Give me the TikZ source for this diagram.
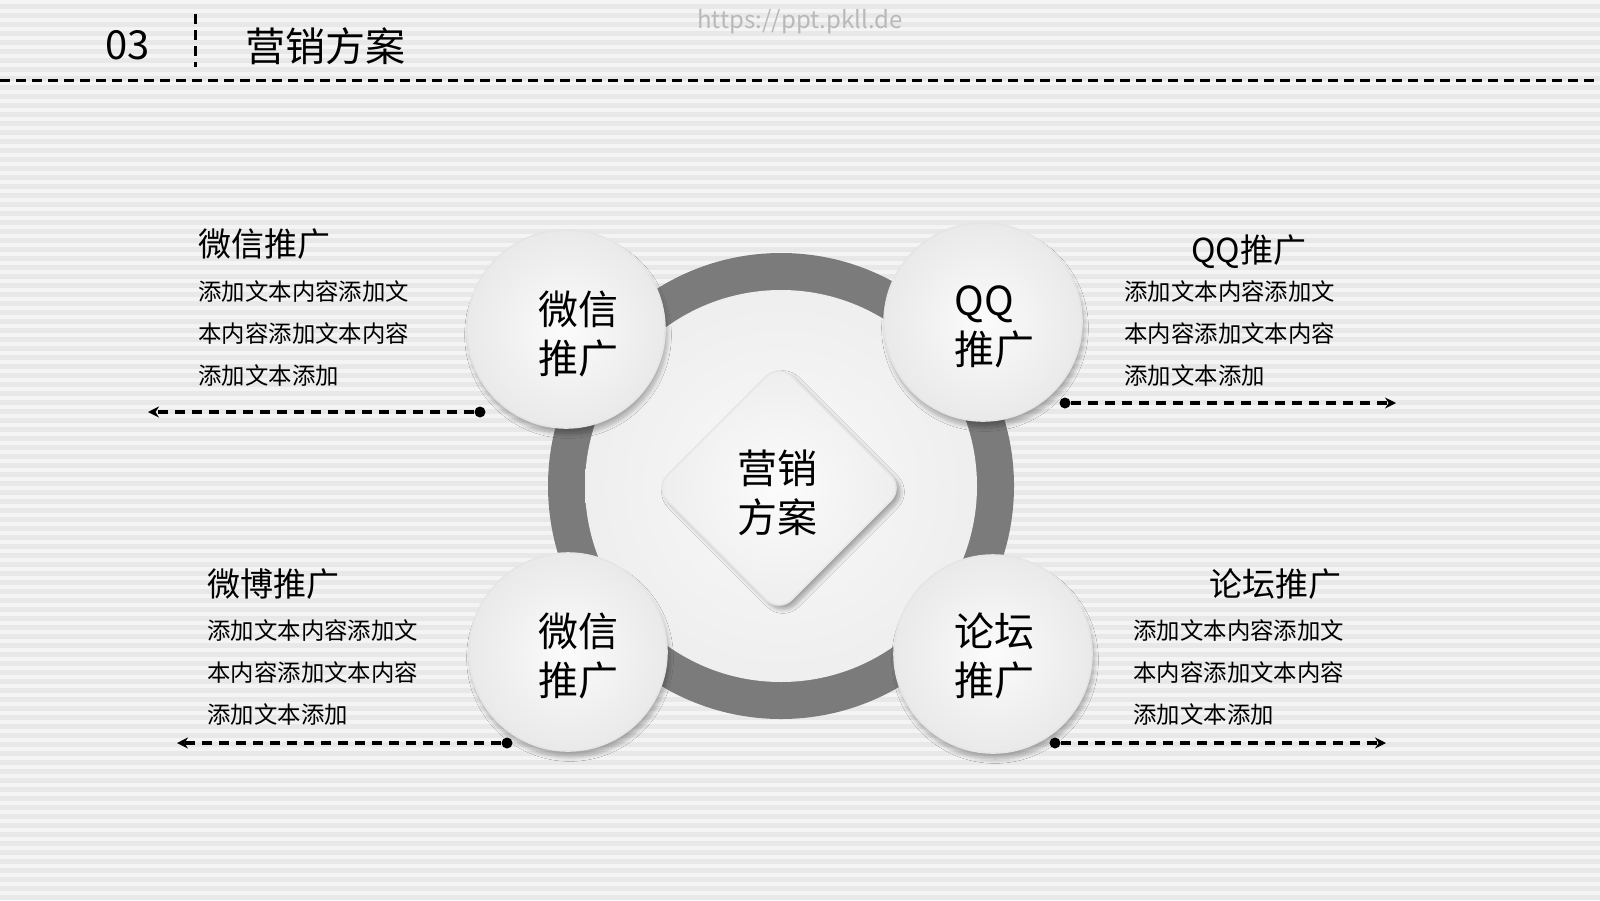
\documentclass[tikz,border=0pt]{standalone}
\usepackage{fontspec}
\setmainfont{Noto Sans CJK SC}
\usetikzlibrary{positioning,shadows.blur,arrows.meta}
\definecolor{bgcol}{HTML}{E8E8E8}
\definecolor{stripecol}{HTML}{F4F4F4}
\definecolor{ringcol}{HTML}{7B7B7B}
\newcommand{\bubsize}{99pt}
\newcommand{\diasize}{88pt}
\tikzset{
    stripe/.style = {stripecol, line width=2pt},
    bubble/.style = {
        circle, inner sep=0, outer sep=0,
        minimum size={\bubsize},
        shading=radial, inner color=gray!3, outer color=gray!17,
        draw=white!80!gray, line width=0.8pt,
        blur shadow={shadow blur steps=12, shadow xshift=1pt,
                     shadow yshift=-3pt, shadow opacity=30}
    },
    diablock/.style = {
        rectangle, rotate=45, inner sep=0,
        minimum size={\diasize}, rounded corners=9pt,
        shading=radial, inner color=gray!3, outer color=gray!14,
        draw=white!80!gray, line width=0.8pt,
        blur shadow={shadow blur steps=10, shadow xshift=2pt,
                     shadow yshift=-2pt, shadow opacity=35}
    },
    bubtext/.style = {
        anchor=west, inner sep=0, align=left,
        font={\fontsize{20}{24.5}\selectfont}
    },
    headtext/.style = {
        anchor=west, inner sep=0,
        font={\fontsize{16.5}{20}\selectfont}
    },
    bodytext/.style = {
        anchor=west, inner sep=0, align=left,
        font={\fontsize{11.7}{21}\selectfont}
    },
    dotnode/.style = {circle, fill=black, inner sep=0, minimum size=5.5pt},
    link/.style = {
        line width=1.6pt, dash pattern=on 5pt off 3.5pt,
        -{Stealth[length=5.5pt,width=5.5pt]}
    },
    rule/.style = {line width=1.5pt, dash pattern=on 5pt off 3pt}
}

\begin{document}
\begin{tikzpicture}[x=0.5pt,y=-0.5pt]

\useasboundingbox (0,0) rectangle (1600,900);
\fill[bgcol] (0,0) rectangle (1600,900);
\foreach \y in {2,11,...,900}
    \draw[stripe] (0,\y) -- (1600,\y);

% header
\node[anchor=west, inner sep=0, font={\fontsize{20}{24}\selectfont}](num) at (105,45){03};
\node[anchor=west, inner sep=0, font={\fontsize{20}{24}\selectfont}](title) at (245,46){营销方案};
\node[inner sep=0, text=gray!55, font={\fontsize{12}{14}\selectfont}](mark) at (800,22){https://ppt.pkll.de};
\coordinate (V1) at (195,14);
\coordinate (V2) at (195,67);
\draw[rule] (V1) -- (V2);
\coordinate (H1) at (0,80);
\coordinate (H2) at (1600,80);
\draw[rule] (H1) -- (H2);

% ring and center
\node[circle, fill=ringcol, minimum size=233pt, inner sep=0](ring) at (781,486){};
\node[circle, shading=radial, inner color=gray!5, outer color=gray!13,
      minimum size=196pt, inner sep=0](core) at (ring.center){};
\node[diablock](dia) at (779,488){};
\node[bubtext](diatext) at (737,493){营销\\方案};

% bubbles
\node[bubble](WX) at (566,329){};
\node[bubble](QQ) at (983,322){};
\node[bubble](WB) at (568,652){};
\node[bubble](LT) at (993,654){};
\node[bubtext](WXtext) at (538,334){微信\\推广};
\node[bubtext](QQtext) at (954,327){QQ\\推广};
\node[bubtext](WBtext) at (538,656){微信\\推广};
\node[bubtext](LTtext) at (954,656){论坛\\推广};

% side texts
\node[headtext](WXhead) at (198,244){微信推广};
\node[bodytext](WXbody) at (198,334){添加文本内容添加文\\本内容添加文本内容\\添加文本添加};
\node[headtext](QQhead) at (1191,252){QQ推广};
\node[bodytext](QQbody) at (1124,334){添加文本内容添加文\\本内容添加文本内容\\添加文本添加};
\node[headtext](WBhead) at (207,584){微博推广};
\node[bodytext](WBbody) at (207,673){添加文本内容添加文\\本内容添加文本内容\\添加文本添加};
\node[headtext](LThead) at (1209,584){论坛推广};
\node[bodytext](LTbody) at (1133,673){添加文本内容添加文\\本内容添加文本内容\\添加文本添加};

% arrows
\node[dotnode](WXdot) at (480,412){};
\node[dotnode](QQdot) at (1065,403){};
\node[dotnode](WBdot) at (507,743){};
\node[dotnode](LTdot) at (1055,743){};
\coordinate (WXend) at (148,412);
\coordinate (QQend) at (1396,403);
\coordinate (WBend) at (177,743);
\coordinate (LTend) at (1386,743);
\draw[link] (WXdot) -- (WXend);
\draw[link] (QQdot) -- (QQend);
\draw[link] (WBdot) -- (WBend);
\draw[link] (LTdot) -- (LTend);

\end{tikzpicture}
\end{document}
